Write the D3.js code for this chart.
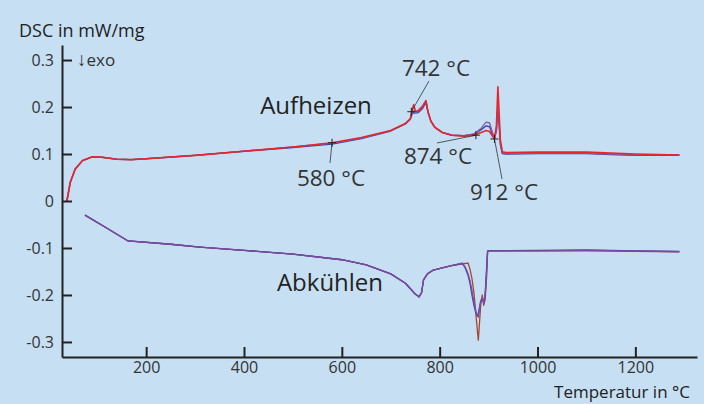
<!DOCTYPE html>
<html>
<head>
<meta charset="utf-8">
<script src="https://cdn.jsdelivr.net/npm/d3@7"></script>
<style>
body{margin:0;background:#c6dff3;}
svg{display:block;font-family:"Open Sans",sans-serif;}
</style>
</head>
<body>
<svg id="chart"></svg>
<script>
// heating curves (Aufheizen)
var heatT=[38,45,55,70,90,110,140,170,200,300,400,500,580,640,700,730,740,744,747,750,756,765,772,776,782,790,805,825,850,870,885,895,902,908,912,916,919,921,924,928,935,1000,1100,1150,1200,1290];
var heatRed=[0,0.040,0.068,0.086,0.094,0.093,0.089,0.088,0.090,0.097,0.106,0.115,0.124,0.135,0.150,0.165,0.175,0.195,0.205,0.192,0.190,0.200,0.213,0.190,0.170,0.157,0.146,0.140,0.138,0.140,0.146,0.150,0.148,0.138,0.132,0.160,0.243,0.200,0.130,0.105,0.103,0.104,0.104,0.102,0.100,0.098];
var heatBlue=[0,0.040,0.068,0.086,0.094,0.093,0.089,0.088,0.090,0.097,0.106,0.114,0.121,0.133,0.149,0.164,0.174,0.186,0.188,0.187,0.188,0.197,0.210,0.190,0.170,0.157,0.146,0.140,0.139,0.142,0.152,0.160,0.158,0.142,0.133,0.150,0.200,0.170,0.120,0.101,0.100,0.101,0.101,0.099,0.097,0.097];
var heatPurple=[0,0.040,0.068,0.086,0.094,0.093,0.089,0.088,0.090,0.097,0.106,0.115,0.123,0.134,0.150,0.165,0.175,0.188,0.192,0.190,0.193,0.203,0.214,0.190,0.170,0.157,0.146,0.140,0.139,0.143,0.155,0.168,0.166,0.146,0.134,0.152,0.210,0.175,0.125,0.103,0.101,0.102,0.102,0.100,0.098,0.098];

// cooling curves (Abkuehlen)
var coolT=[75,120,163,250,310,400,500,600,650,700,730,750,758,763,767,775,787,822,846,852,858,862,866,870,874,877,879,882,884,887,890,893,896,898,1000,1100,1200,1290];
var coolPurple=[-0.030,-0.058,-0.085,-0.092,-0.098,-0.105,-0.113,-0.125,-0.136,-0.155,-0.175,-0.198,-0.204,-0.195,-0.168,-0.155,-0.147,-0.138,-0.132,-0.140,-0.155,-0.170,-0.190,-0.215,-0.235,-0.243,-0.247,-0.225,-0.215,-0.205,-0.218,-0.200,-0.150,-0.106,-0.106,-0.105,-0.106,-0.108];
var coolBrown=[-0.030,-0.058,-0.085,-0.092,-0.098,-0.105,-0.113,-0.125,-0.136,-0.155,-0.175,-0.198,-0.204,-0.195,-0.168,-0.155,-0.147,-0.138,-0.134,-0.133,-0.132,-0.145,-0.165,-0.195,-0.240,-0.275,-0.296,-0.250,-0.220,-0.200,-0.222,-0.210,-0.160,-0.106,-0.106,-0.106,-0.107,-0.108];
var coolBlue=[-0.030,-0.058,-0.085,-0.092,-0.098,-0.105,-0.113,-0.125,-0.136,-0.155,-0.175,-0.198,-0.204,-0.195,-0.168,-0.155,-0.147,-0.138,-0.133,-0.142,-0.158,-0.175,-0.200,-0.222,-0.238,-0.245,-0.240,-0.222,-0.212,-0.208,-0.215,-0.198,-0.140,-0.106,-0.105,-0.104,-0.106,-0.107];

var xTicks=[200,400,600,800,1000,1200];
var yTicks=[-0.3,-0.2,-0.1,0,0.1,0.2,0.3];
var yTickLabels=["-0.3","-0.2","-0.1","0","0.1","0.2","0.3"];

// annotations: temperature, value at marker, label
var notes=[
  {t:742,v:0.190,label:"742 °C",lx:436,ly:76,ex:429,ey:81},
  {t:580,v:0.124,label:"580 °C",lx:331,ly:186,ex:330,ey:163},
  {t:874,v:0.140,label:"874 °C",lx:438,ly:164,ex:437,ey:143},
  {t:912,v:0.132,label:"912 °C",lx:504,ly:200,ex:502,ey:179}
];

var width=704, height=404;
var svg=d3.select("#chart").attr("width",width).attr("height",height);

var x=d3.scaleLinear().domain([28,1326]).range([62,697]);
var y=d3.scaleLinear().domain([-0.332,0.332]).range([357,45]);

var line=function(ts,vs){
  return d3.line().x(function(d,i){return x(ts[i]);}).y(function(d){return y(d);})(vs);
};

var series=[
  {t:coolT,v:coolBrown,c:"#a8452f",w:1.3},
  {t:coolT,v:coolBlue,c:"#3a44a6",w:1.3},
  {t:coolT,v:coolPurple,c:"#7a4ca3",w:1.3},
  {t:heatT,v:heatBlue,c:"#2f4aa8",w:1.4},
  {t:heatT,v:heatPurple,c:"#8a55b0",w:1.3},
  {t:heatT,v:heatRed,c:"#e8262a",w:1.6}
];
svg.selectAll("path.curve")
  .data(series)
  .enter()
  .append("path")
  .attr("class","curve")
  .attr("d",function(d){return line(d.t,d.v);})
  .attr("fill","none")
  .attr("stroke",function(d){return d.c;})
  .attr("stroke-width",function(d){return d.w;})
  .attr("stroke-linejoin","round");

// axes
var xAxis=svg.append("g")
  .attr("transform","translate(0,357)")
  .call(d3.axisBottom(x).tickValues(xTicks).tickSize(-10).tickSizeOuter(0).tickPadding(5)
    .tickFormat(function(d){return String(d);}));
var yAxis=svg.append("g")
  .attr("transform","translate(62,0)")
  .call(d3.axisLeft(y).tickValues(yTicks).tickSize(-10).tickSizeOuter(0).tickPadding(8)
    .tickFormat(function(d,i){return yTickLabels[i];}));
[xAxis,yAxis].forEach(function(g){
  g.select(".domain").attr("stroke","#222").attr("stroke-width",2);
  g.selectAll(".tick line").attr("stroke","#222").attr("stroke-width",2);
  g.selectAll(".tick text").attr("fill","#333").attr("font-size",16).attr("font-family","Open Sans");
});

// annotation leaders and markers
notes.forEach(function(n){
  var mx=x(n.t), my=y(n.v);
  svg.append("line").attr("x1",mx).attr("y1",my).attr("x2",n.ex).attr("y2",n.ey)
    .attr("stroke","#333").attr("stroke-width",0.8);
  svg.append("path").attr("d","M"+(mx-4)+","+my+"H"+(mx+4)+"M"+mx+","+(my-4)+"V"+(my+4))
    .attr("stroke","#222").attr("stroke-width",1);
  svg.append("text").attr("x",n.lx).attr("y",n.ly).attr("text-anchor","middle")
    .attr("font-size",22.5).attr("fill","#333").text(n.label);
});

svg.append("text").attr("x",316).attr("y",114).attr("text-anchor","middle")
  .attr("font-size",24).attr("fill","#222").text("Aufheizen");
svg.append("text").attr("x",330).attr("y",291).attr("text-anchor","middle")
  .attr("font-size",24).attr("fill","#222").text("Abkühlen");

svg.append("text").attr("x",19).attr("y",37).attr("font-size",18).attr("fill","#222").text("DSC in mW/mg");
svg.append("text").attr("x",77).attr("y",66).attr("font-size",17).attr("fill","#333")
  .append("tspan").attr("font-weight","bold").attr("font-size",19).text("↓")
  .select(function(){return this.parentNode;}).append("tspan").text("exo");
svg.append("text").attr("x",690).attr("y",398).attr("text-anchor","end").attr("font-size",17).attr("fill","#222").text("Temperatur in °C");
</script>
</body>
</html>
